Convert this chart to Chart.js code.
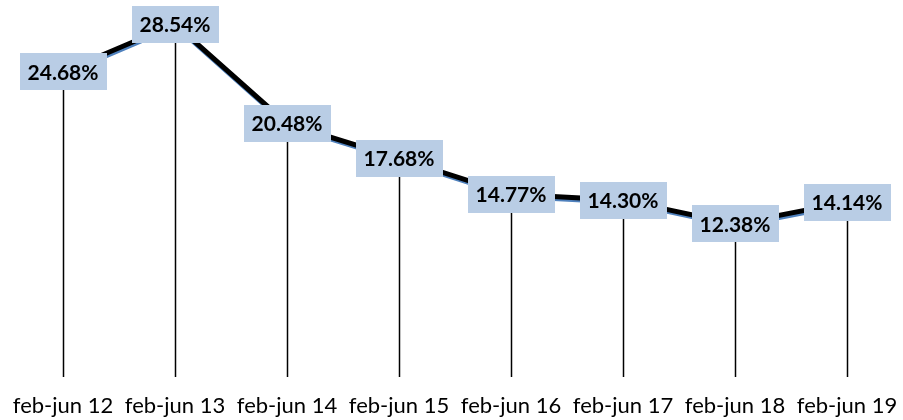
<!DOCTYPE html>
<html><head><meta charset="utf-8">
<script src="https://cdn.jsdelivr.net/npm/chart.js@4"></script>
<style>html,body{margin:0;padding:0;background:#fff}#wrap{width:903px;height:420px}</style>
</head><body><div id="wrap"><canvas id="c"></canvas></div>
<script>
const categories = ["feb-jun 12","feb-jun 13","feb-jun 14","feb-jun 15","feb-jun 16","feb-jun 17","feb-jun 18","feb-jun 19"];
const values = [24.68, 28.54, 20.48, 17.68, 14.77, 14.30, 12.38, 14.14];
const valueLabels = ["24.68%","28.54%","20.48%","17.68%","14.77%","14.30%","12.38%","14.14%"];

const dropLines = {
  id:'dropLines',
  beforeDatasetsDraw(chart){
    const {ctx, chartArea} = chart;
    const meta = chart.getDatasetMeta(0);
    ctx.save();
    ctx.strokeStyle = '#000';
    ctx.lineWidth = 1.5;
    meta.data.forEach(p=>{
      const x = Math.round(p.x)+0.5;
      ctx.beginPath(); ctx.moveTo(x, p.y); ctx.lineTo(x, chartArea.bottom); ctx.stroke();
    });
    ctx.restore();
  }
};
const shadow = {
  id:'shadow',
  beforeDatasetDraw(chart){
    const ctx = chart.ctx; ctx.save();
    ctx.shadowColor = '#4F81BD'; ctx.shadowOffsetX = 1; ctx.shadowOffsetY = 2; ctx.shadowBlur = 0;
  },
  afterDatasetDraw(chart){ chart.ctx.restore(); }
};
const boxLabels = {
  id:'boxLabels',
  afterDatasetsDraw(chart){
    const {ctx} = chart;
    const meta = chart.getDatasetMeta(0);
    ctx.save();
    ctx.font = 'bold 21px Lato';
    ctx.textAlign = 'center'; ctx.textBaseline = 'middle';
    meta.data.forEach((p,i)=>{
      const t = valueLabels[i];
      const w = ctx.measureText(t).width + 16, h = 37;
      ctx.fillStyle = '#B9CDE5';
      ctx.fillRect(Math.round(p.x - w/2), Math.round(p.y - h/2), Math.round(w), h);
      ctx.fillStyle = '#000';
      ctx.fillText(t, p.x, p.y+1);
    });
    ctx.restore();
  }
};

new Chart(document.getElementById('c'), {
  type:'line',
  data:{ labels: categories, datasets:[{ data: values, borderColor:'#000', borderWidth:5, pointRadius:0, tension:0, fill:false }]},
  options:{
    responsive:true, maintainAspectRatio:false, animation:false,
    layout:{ padding:{ left:7, right:0, top:6, bottom:0 } },
    plugins:{ legend:{display:false}, tooltip:{enabled:false} },
    scales:{
      x:{ offset:true, grid:{display:false, drawTicks:false}, border:{display:false},
          afterFit(scale){ scale.height = 43; scale.paddingLeft = 0; scale.paddingRight = 0; },
          ticks:{ color:'#000', font:{family:'Lato', size:22}, padding:16, maxRotation:0, autoSkip:false } },
      y:{ display:false, min:0, max:30 }
    }
  },
  plugins:[dropLines, shadow, boxLabels]
});
</script></body></html>
